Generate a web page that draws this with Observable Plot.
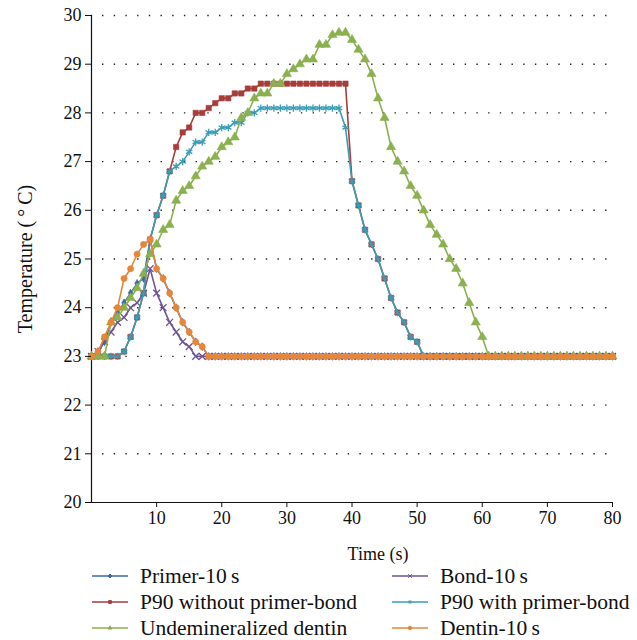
<!DOCTYPE html>
<html>
<head>
<meta charset="utf-8">
<script src="https://cdn.jsdelivr.net/npm/d3@7"></script>
<script src="https://cdn.jsdelivr.net/npm/@observablehq/plot@0.6"></script>
<style>
  body { margin: 0; background: #fff; }
  #chart { width: 637px; position: relative; }
  .legend { display: grid; grid-template-columns: 300px 300px; row-gap: 0px; margin-left: 92px; font-family: "Liberation Serif", serif; font-size: 21.5px; color: #111; }
  .legend .item { display: flex; align-items: center; height: 26px; line-height: 22px; white-space: nowrap; }
  .legend svg { margin-right: 12px; flex: none; }
</style>
</head>
<body>
<div id="chart"></div>
<script>
// Time (s)
const time = [0,1,2,3,4,5,6,7,8,9,10,11,12,13,14,15,16,17,18,19,20,21,22,23,24,25,26,27,28,29,30,31,32,33,34,35,36,37,38,39,40,41,42,43,44,45,46,47,48,49,50,51,52,53,54,55,56,57,58,59,60,61,62,63,64,65,66,67,68,69,70,71,72,73,74,75,76,77,78,79,80];

const primer10 = [23.0,23.1,23.3,23.7,23.9,24.1,24.3,24.5,24.6,25.4,24.8,24.6,24.3,24.0,23.7,23.5,23.3,23.2,23.0,23.0,23.0,23.0,23.0,23.0,23.0,23.0,23.0,23.0,23.0,23.0,23.0,23.0,23.0,23.0,23.0,23.0,23.0,23.0,23.0,23.0,23.0,23.0,23.0,23.0,23.0,23.0,23.0,23.0,23.0,23.0,23.0,23.0,23.0,23.0,23.0,23.0,23.0,23.0,23.0,23.0,23.0,23.0,23.0,23.0,23.0,23.0,23.0,23.0,23.0,23.0,23.0,23.0,23.0,23.0,23.0,23.0,23.0,23.0,23.0,23.0,23.0];

const bond10 = [23.0,23.1,23.3,23.5,23.7,23.8,24.0,24.1,24.3,24.8,24.3,24.0,23.7,23.5,23.3,23.2,23.0,23.0,23.0,23.0,23.0,23.0,23.0,23.0,23.0,23.0,23.0,23.0,23.0,23.0,23.0,23.0,23.0,23.0,23.0,23.0,23.0,23.0,23.0,23.0,23.0,23.0,23.0,23.0,23.0,23.0,23.0,23.0,23.0,23.0,23.0,23.0,23.0,23.0,23.0,23.0,23.0,23.0,23.0,23.0,23.0,23.0,23.0,23.0,23.0,23.0,23.0,23.0,23.0,23.0,23.0,23.0,23.0,23.0,23.0,23.0,23.0,23.0,23.0,23.0,23.0];

const p90Without = [23.0,23.0,23.0,23.0,23.0,23.1,23.4,23.8,24.3,25.4,25.9,26.3,26.8,27.3,27.6,27.7,28.0,28.0,28.1,28.2,28.3,28.3,28.4,28.4,28.5,28.5,28.6,28.6,28.6,28.6,28.6,28.6,28.6,28.6,28.6,28.6,28.6,28.6,28.6,28.6,26.6,26.1,25.6,25.3,25.0,24.6,24.2,23.9,23.7,23.4,23.3,23.0,23.0,23.0,23.0,23.0,23.0,23.0,23.0,23.0,23.0,23.0,23.0,23.0,23.0,23.0,23.0,23.0,23.0,23.0,23.0,23.0,23.0,23.0,23.0,23.0,23.0,23.0,23.0,23.0,23.0];

const p90With = [23.0,23.0,23.0,23.0,23.0,23.1,23.4,23.8,24.3,25.4,25.9,26.3,26.8,26.9,27.0,27.2,27.4,27.4,27.6,27.6,27.7,27.7,27.8,27.8,28.0,28.0,28.1,28.1,28.1,28.1,28.1,28.1,28.1,28.1,28.1,28.1,28.1,28.1,28.1,27.7,26.6,26.1,25.6,25.3,25.0,24.6,24.2,23.9,23.7,23.4,23.3,23.0,23.0,23.0,23.0,23.0,23.0,23.0,23.0,23.0,23.0,23.0,23.0,23.0,23.0,23.0,23.0,23.0,23.0,23.0,23.0,23.0,23.0,23.0,23.0,23.0,23.0,23.0,23.0,23.0,23.0];

const undemineralized = [23.0,23.0,23.0,23.7,23.8,24.0,24.2,24.4,24.7,25.1,25.3,25.6,25.7,26.2,26.4,26.5,26.7,26.9,27.0,27.1,27.3,27.4,27.5,27.9,28.0,28.3,28.4,28.4,28.6,28.6,28.8,28.9,29.0,29.1,29.1,29.4,29.4,29.6,29.65,29.65,29.5,29.3,29.1,28.8,28.3,27.9,27.3,27.0,26.8,26.5,26.3,26.0,25.7,25.5,25.3,25.0,24.8,24.5,24.1,23.7,23.4,23.0,23.0,23.0,23.0,23.0,23.0,23.0,23.0,23.0,23.0,23.0,23.0,23.0,23.0,23.0,23.0,23.0,23.0,23.0,23.0];

const dentin10 = [23.0,23.1,23.4,23.7,24.0,24.6,24.8,25.1,25.3,25.4,24.8,24.6,24.3,24.0,23.7,23.5,23.3,23.2,23.0,23.0,23.0,23.0,23.0,23.0,23.0,23.0,23.0,23.0,23.0,23.0,23.0,23.0,23.0,23.0,23.0,23.0,23.0,23.0,23.0,23.0,23.0,23.0,23.0,23.0,23.0,23.0,23.0,23.0,23.0,23.0,23.0,23.0,23.0,23.0,23.0,23.0,23.0,23.0,23.0,23.0,23.0,23.0,23.0,23.0,23.0,23.0,23.0,23.0,23.0,23.0,23.0,23.0,23.0,23.0,23.0,23.0,23.0,23.0,23.0,23.0,23.0];

const seriesNames = ["Primer-10\u2009s","Bond-10\u2009s","P90 without primer-bond","P90 with primer-bond","Undemineralized dentin","Dentin-10\u2009s"];
const seriesValues = [primer10, bond10, p90Without, p90With, undemineralized, dentin10];
const seriesColors = ["#3c68a6","#6e5497","#a63d3a","#3a9db5","#8bb04f","#e5863a"];
const seriesSymbols = ["diamond","times","square","asterisk","triangle","circle"];
const seriesR = [2.4, 3.2, 3.0, 3.4, 3.4, 3.1];
const seriesFilled = [true, false, true, false, true, true];

const xTicks = [10,20,30,40,50,60,70,80];
const yTicks = [20,21,22,23,24,25,26,27,28,29,30];
const xLabel = "Time (s)";
const yLabel = "Temperature (\u2009°\u2009C)";

const marks = [];
marks.push(Plot.ruleY(yTicks.filter(d => d > 20), {stroke: "#222", strokeWidth: 1.4, strokeDasharray: "1.4,10.3", strokeDashoffset: -11}));
marks.push(Plot.ruleX([0], {stroke: "#111", strokeWidth: 1.2}));
marks.push(Plot.ruleY([20], {stroke: "#111", strokeWidth: 1.2}));
seriesValues.forEach((vals, i) => {
  const data = time.map((t, j) => ({t, v: vals[j]}));
  marks.push(Plot.line(data, {x: "t", y: "v", stroke: seriesColors[i], strokeWidth: 1.6}));
  marks.push(Plot.dot(data, {
    x: "t", y: "v", symbol: seriesSymbols[i], r: seriesR[i],
    fill: seriesFilled[i] ? seriesColors[i] : "none",
    stroke: seriesColors[i], strokeWidth: seriesFilled[i] ? 0.6 : 1.3
  }));
});
marks.push(Plot.axisY(yTicks, {tickSize: 6, tickPadding: 4, label: null, fontSize: 18}));
marks.push(Plot.axisX(xTicks, {tickSize: 5, tickPadding: 4, label: null, fontSize: 18}));
marks.push(Plot.text([xLabel], {frameAnchor: "bottom", dy: 57, dx: 26, fontSize: 18}));
marks.push(Plot.text([yLabel], {frameAnchor: "left", textAnchor: "middle", dx: -66, rotate: -90, fontSize: 20}));

const plot = Plot.plot({
  width: 637,
  height: 563,
  marginLeft: 91,
  marginRight: 25,
  marginTop: 15,
  marginBottom: 61,
  x: {domain: [0, 80]},
  y: {domain: [20, 30]},
  style: {fontFamily: "Liberation Serif, serif", fontSize: "18px", color: "#111", background: "#fff", overflow: "visible"},
  marks
});
plot.style.display = "block";
document.getElementById("chart").appendChild(plot);

// legend
const legend = document.createElement("div");
legend.className = "legend";
const ns = "http://www.w3.org/2000/svg";
const symMap = {diamond: d3.symbolDiamond2, times: d3.symbolTimes, square: d3.symbolSquare2, asterisk: d3.symbolAsterisk, triangle: d3.symbolTriangle2, circle: d3.symbolCircle};
seriesNames.forEach((name, i) => {
  const item = document.createElement("div");
  item.className = "item";
  const s = document.createElementNS(ns, "svg");
  s.setAttribute("width", 36); s.setAttribute("height", 12);
  const ln = document.createElementNS(ns, "line");
  ln.setAttribute("x1", 0); ln.setAttribute("x2", 36); ln.setAttribute("y1", 6); ln.setAttribute("y2", 6);
  ln.setAttribute("stroke", seriesColors[i]); ln.setAttribute("stroke-width", 1.6);
  s.appendChild(ln);
  const p = document.createElementNS(ns, "path");
  p.setAttribute("d", d3.symbol(symMap[seriesSymbols[i]], 10)());
  p.setAttribute("transform", "translate(18,6)");
  p.setAttribute("fill", seriesColors[i]); p.setAttribute("stroke", seriesColors[i]);
  s.appendChild(p);
  item.appendChild(s);
  const tx = document.createElement("span");
  tx.textContent = name;
  item.appendChild(tx);
  legend.appendChild(item);
});
document.getElementById("chart").appendChild(legend);
</script>
</body>
</html>
